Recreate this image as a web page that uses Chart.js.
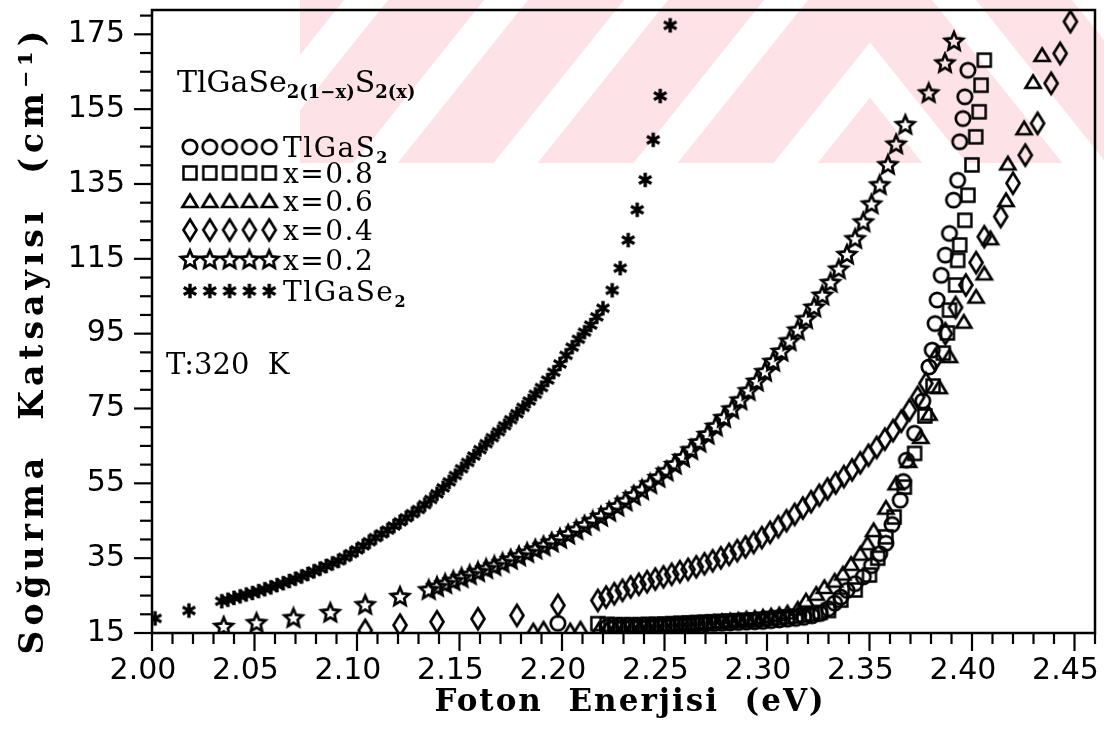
<!DOCTYPE html>
<html>
<head>
<meta charset="utf-8">
<script src="https://cdn.jsdelivr.net/npm/chart.js@4.4.0/dist/chart.umd.min.js"></script>
<style>
  html, body { margin: 0; padding: 0; background: #fff; }
  #wrap { width: 1104px; height: 729px; }
</style>
</head>
<body>
<div id="wrap"><canvas id="absChart" width="1104" height="729"></canvas></div>
<script>
// x = photon energy (eV), y = absorption coefficient (cm^-1)
const seX = [2.0015, 2.018, 2.034, 2.037, 2.040, 2.043, 2.046, 2.049, 2.052, 2.055, 2.058, 2.061, 2.064, 2.067, 2.070, 2.073, 2.076, 2.079, 2.082, 2.085, 2.088, 2.091, 2.094, 2.097, 2.100, 2.103, 2.106, 2.109, 2.112, 2.115, 2.118, 2.121, 2.124, 2.127, 2.130, 2.133, 2.136, 2.139, 2.142, 2.145, 2.148, 2.151, 2.154, 2.157, 2.160, 2.163, 2.166, 2.169, 2.172, 2.175, 2.178, 2.181, 2.184, 2.187, 2.190, 2.193, 2.196, 2.199, 2.202, 2.205, 2.208, 2.211, 2.214, 2.217, 2.220, 2.2245, 2.2284, 2.2323, 2.2367, 2.2406, 2.2445, 2.2479, 2.2528];
const seY = [18.9, 21.0, 23.5, 23.9, 24.4, 24.8, 25.3, 25.7, 26.2, 26.7, 27.2, 27.8, 28.3, 28.9, 29.5, 30.1, 30.8, 31.5, 32.2, 32.9, 33.6, 34.3, 35.2, 36.2, 37.2, 38.3, 39.4, 40.5, 41.5, 42.5, 43.6, 44.7, 45.8, 46.9, 48.0, 49.3, 50.7, 52.2, 53.8, 55.4, 57.1, 58.9, 60.6, 62.3, 64.0, 65.6, 67.2, 68.8, 70.4, 72.0, 73.6, 75.3, 77.0, 78.8, 80.6, 82.6, 84.7, 86.9, 89.2, 91.4, 93.5, 95.4, 97.3, 99.5, 101.8, 106.6, 112.5, 120.0, 128.1, 136.1, 146.8, 158.5, 177.4];

const x02X = [2.035, 2.051, 2.069, 2.087, 2.104, 2.121, 2.135, 2.139, 2.143, 2.147, 2.151, 2.155, 2.159, 2.163, 2.167, 2.171, 2.175, 2.179, 2.183, 2.187, 2.191, 2.195, 2.199, 2.203, 2.207, 2.211, 2.215, 2.219, 2.223, 2.227, 2.231, 2.235, 2.239, 2.243, 2.247, 2.251, 2.255, 2.259, 2.263, 2.267, 2.271, 2.275, 2.279, 2.283, 2.287, 2.291, 2.295, 2.299, 2.303, 2.307, 2.311, 2.315, 2.319, 2.323, 2.327, 2.331, 2.335, 2.339, 2.343, 2.347, 2.351, 2.355, 2.359, 2.363, 2.3675, 2.3789, 2.3868, 2.3912];
const x02Y = [16.6, 17.6, 18.9, 20.3, 22.4, 24.6, 26.4, 27.2, 28.0, 28.8, 29.6, 30.4, 31.2, 32.0, 32.8, 33.6, 34.5, 35.4, 36.3, 37.2, 38.1, 39.1, 40.1, 41.2, 42.4, 43.6, 44.8, 46.0, 47.3, 48.7, 50.1, 51.6, 53.1, 54.7, 56.4, 58.1, 59.9, 61.8, 63.8, 65.8, 67.9, 70.1, 72.4, 74.7, 77.1, 79.6, 82.1, 84.7, 87.4, 90.1, 92.9, 95.8, 98.8, 101.9, 105.1, 108.5, 112.1, 116.0, 120.2, 124.7, 129.5, 134.6, 140.0, 145.5, 150.7, 159.2, 167.2, 173.0];

const x04X = [2.104, 2.121, 2.139, 2.159, 2.178, 2.198, 2.2175, 2.2215, 2.2255, 2.2295, 2.2335, 2.2375, 2.2415, 2.2455, 2.2495, 2.2535, 2.2575, 2.2615, 2.2655, 2.2695, 2.2735, 2.2775, 2.2815, 2.2855, 2.2895, 2.2935, 2.2975, 2.3015, 2.3055, 2.3095, 2.3135, 2.3175, 2.3215, 2.3255, 2.3295, 2.3335, 2.3375, 2.3415, 2.3455, 2.3495, 2.3535, 2.3575, 2.3615, 2.3655, 2.3695, 2.3735, 2.3775, 2.382, 2.387, 2.392, 2.397, 2.402, 2.406, 2.414, 2.420, 2.426, 2.432, 2.4386, 2.443, 2.448];
const x04Y = [15.7, 17.1, 18.0, 18.8, 19.7, 22.4, 23.7, 24.6, 25.5, 26.4, 27.3, 28.0, 28.7, 29.4, 30.0, 30.7, 31.4, 32.0, 32.7, 33.5, 34.3, 35.1, 36.0, 37.0, 38.0, 39.2, 40.5, 41.9, 43.4, 45.0, 46.7, 48.4, 50.1, 51.8, 53.5, 55.1, 56.8, 58.6, 60.5, 62.5, 64.6, 66.8, 69.1, 71.6, 74.6, 78.0, 81.7, 88.0, 95.0, 102.0, 108.0, 114.0, 120.9, 126.3, 135.2, 142.7, 151.2, 161.9, 169.9, 178.4];

const x06X = [2.186, 2.191, 2.204, 2.209, 2.218, 2.222, 2.226, 2.230, 2.234, 2.238, 2.242, 2.246, 2.250, 2.254, 2.258, 2.262, 2.266, 2.270, 2.274, 2.278, 2.282, 2.286, 2.290, 2.294, 2.298, 2.302, 2.306, 2.310, 2.315, 2.319, 2.324, 2.328, 2.333, 2.337, 2.341, 2.3455, 2.349, 2.352, 2.358, 2.363, 2.369, 2.375, 2.379, 2.384, 2.389, 2.396, 2.402, 2.406, 2.409, 2.4166, 2.4175, 2.4254, 2.4298, 2.4342];
const x06Y = [15.7, 16.2, 15.7, 16.2, 16.0, 16.1, 16.2, 16.3, 16.4, 16.5, 16.6, 16.8, 16.9, 17.1, 17.2, 17.4, 17.6, 17.8, 18.0, 18.2, 18.4, 18.6, 18.9, 19.1, 19.4, 19.7, 20.0, 20.5, 21.5, 23.7, 25.5, 27.3, 29.0, 30.9, 33.5, 36.2, 39.0, 42.5, 48.5, 55.0, 61.0, 67.4, 73.6, 80.7, 89.0, 98.2, 104.9, 111.1, 120.5, 130.7, 140.5, 149.9, 162.3, 169.5];

const x08X = [2.2175, 2.222, 2.226, 2.230, 2.234, 2.238, 2.242, 2.246, 2.250, 2.254, 2.258, 2.262, 2.266, 2.270, 2.274, 2.278, 2.282, 2.286, 2.290, 2.294, 2.298, 2.302, 2.306, 2.310, 2.314, 2.318, 2.322, 2.326, 2.330, 2.336, 2.343, 2.350, 2.354, 2.358, 2.362, 2.367, 2.372, 2.377, 2.381, 2.386, 2.388, 2.389, 2.392, 2.393, 2.394, 2.3965, 2.398, 2.400, 2.4018, 2.4035, 2.4044, 2.406];
const x08Y = [17.5, 17.3, 17.2, 17.2, 17.2, 17.2, 17.3, 17.3, 17.4, 17.5, 17.6, 17.7, 17.8, 17.9, 18.0, 18.1, 18.2, 18.3, 18.4, 18.5, 18.7, 18.9, 19.1, 19.3, 19.5, 19.8, 20.1, 20.5, 21.0, 23.8, 26.5, 30.5, 35.0, 40.7, 46.0, 54.0, 63.0, 73.0, 81.0, 89.8, 95.2, 101.3, 108.0, 114.6, 118.7, 125.3, 132.0, 140.1, 147.6, 154.3, 161.4, 168.1];

const gsX = [2.198, 2.222, 2.226, 2.230, 2.234, 2.238, 2.242, 2.246, 2.250, 2.254, 2.258, 2.262, 2.266, 2.270, 2.274, 2.278, 2.282, 2.286, 2.290, 2.294, 2.298, 2.302, 2.306, 2.310, 2.314, 2.318, 2.322, 2.326, 2.330, 2.333, 2.336, 2.339, 2.343, 2.347, 2.351, 2.355, 2.358, 2.361, 2.365, 2.3665, 2.368, 2.372, 2.376, 2.379, 2.3806, 2.382, 2.383, 2.385, 2.387, 2.389, 2.391, 2.393, 2.394, 2.3956, 2.3965, 2.398];
const gsY = [17.6, 16.6, 16.5, 16.5, 16.6, 16.6, 16.7, 16.8, 16.9, 17.0, 17.1, 17.2, 17.3, 17.4, 17.5, 17.6, 17.7, 17.8, 17.9, 18.0, 18.1, 18.3, 18.5, 18.7, 18.9, 19.2, 19.6, 20.2, 21.5, 23.0, 24.6, 26.4, 28.2, 30.0, 33.0, 36.2, 39.0, 44.0, 50.5, 55.5, 61.2, 68.4, 77.0, 86.1, 90.6, 97.7, 104.0, 110.6, 116.0, 121.8, 130.7, 136.0, 146.3, 152.5, 158.3, 165.4];

const xTickLabels = ['2.00', '2.05', '2.10', '2.15', '2.20', '2.25', '2.30', '2.35', '2.40', '2.45'];
const yTickLabels = ['15', '35', '55', '75', '95', '115', '135', '155', '175'];

function makeMarker(w, h, lw, draw) {
    const c = document.createElement('canvas');
    c.width = w;
    c.height = h;
    const g = c.getContext('2d');
    g.strokeStyle = '#000';
    g.lineWidth = lw;
    g.lineJoin = 'miter';
    draw(g, w / 2, h / 2);
    return c;
}

const circleMark = makeMarker(22, 22, 2.7, (g, cx, cy) => {
    g.beginPath(); g.arc(cx, cy, 7.2, 0, Math.PI * 2); g.stroke();
});
const squareMark = makeMarker(20, 20, 2.5, (g, cx, cy) => {
    g.strokeRect(cx - 6.5, cy - 6.5, 13, 13);
});
const triangleMark = makeMarker(22, 20, 2.7, (g, cx, cy) => {
    g.beginPath(); g.moveTo(cx, cy - 6.5); g.lineTo(cx + 7.5, cy + 6); g.lineTo(cx - 7.5, cy + 6); g.closePath(); g.stroke();
});
const diamondMark = makeMarker(20, 28, 2.7, (g, cx, cy) => {
    g.beginPath(); g.moveTo(cx, cy - 10.5); g.lineTo(cx + 6.5, cy); g.lineTo(cx, cy + 10.5); g.lineTo(cx - 6.5, cy); g.closePath(); g.stroke();
});
const starMark = makeMarker(26, 26, 2.7, (g, cx, cy) => {
    g.beginPath();
    for (let i = 0; i < 10; i++) {
        const r = i % 2 === 0 ? 9.5 : 4.4;
        const a = -Math.PI / 2 + i * Math.PI / 5;
        const px = cx + r * Math.cos(a), py = cy + r * Math.sin(a);
        if (i === 0) g.moveTo(px, py); else g.lineTo(px, py);
    }
    g.closePath(); g.stroke();
});
const asteriskMark = makeMarker(20, 20, 3.4, (g, cx, cy) => {
    g.beginPath();
    for (let i = 0; i < 3; i++) {
        const a = Math.PI / 2 + i * Math.PI / 3;
        g.moveTo(cx - 7.2 * Math.cos(a), cy - 7.2 * Math.sin(a));
        g.lineTo(cx + 7.2 * Math.cos(a), cy + 7.2 * Math.sin(a));
    }
    g.stroke();
});

function toPoints(xs, ys) {
    return xs.map((x, i) => ({ x: x, y: ys[i] }));
}

const series = [
    { label: 'TlGaS₂', xs: gsX, ys: gsY, mark: circleMark },
    { label: 'x=0.8', xs: x08X, ys: x08Y, mark: squareMark },
    { label: 'x=0.6', xs: x06X, ys: x06Y, mark: triangleMark },
    { label: 'x=0.4', xs: x04X, ys: x04Y, mark: diamondMark },
    { label: 'x=0.2', xs: x02X, ys: x02Y, mark: starMark },
    { label: 'TlGaSe₂', xs: seX, ys: seY, mark: asteriskMark }
];

const tickFont = { family: 'DejaVu Sans', size: 30 };

function drawRich(ctx, x, y, parts) {
    let cx = x;
    parts.forEach(p => {
        ctx.font = p[1];
        ctx.fillText(p[0], cx, y + p[2]);
        cx += ctx.measureText(p[0]).width;
    });
}

// faint pink chevron stamp behind the top of the page
const stampPlugin = {
    id: 'stamp',
    beforeDraw(chart) {
        const ctx = chart.ctx;
        const ax = 870, s = 1.25, period = 175, white = 55;
        const xl = 300, xr = 1104;
        ctx.save();
        ctx.beginPath();
        ctx.rect(xl, 0, xr - xl, 163);
        ctx.clip();
        ctx.fillStyle = '#fde3e7';
        for (let k = -6; k <= 2; k++) {
            const d1 = 70 + white / 2 + k * period;
            const d2 = 70 - white / 2 + (k + 1) * period;
            ctx.beginPath();
            ctx.moveTo(xl, d1 + s * (ax - xl));
            ctx.lineTo(ax, d1);
            ctx.lineTo(xr, d1 + s * (xr - ax));
            ctx.lineTo(xr, d2 + s * (xr - ax));
            ctx.lineTo(ax, d2);
            ctx.lineTo(xl, d2 + s * (ax - xl));
            ctx.closePath();
            ctx.fill();
        }
        ctx.restore();
    }
};

// frame, tick marks, titles and the in-plot legend
const decorPlugin = {
    id: 'decor',
    afterDraw(chart) {
        const ctx = chart.ctx;
        const area = chart.chartArea;
        const xs = chart.scales.x, ys = chart.scales.y;
        ctx.save();
        ctx.strokeStyle = '#000';
        ctx.lineWidth = 2.5;
        ctx.strokeRect(area.left, area.top, area.right - area.left, area.bottom - area.top);

        ctx.lineWidth = 2.2;
        xs.ticks.forEach(t => {
            const px = xs.getPixelForValue(t.value);
            const major = Math.round(t.value * 100) % 5 === 0;
            ctx.beginPath();
            ctx.moveTo(px, area.bottom);
            ctx.lineTo(px, area.bottom + (major ? 18 : 11));
            ctx.stroke();
        });
        ys.ticks.forEach(t => {
            const py = ys.getPixelForValue(t.value);
            const major = (Math.round(t.value) - 15) % 20 === 0;
            ctx.beginPath();
            ctx.moveTo(area.left, py);
            ctx.lineTo(area.left - (major ? 18 : 12), py);
            ctx.stroke();
        });

        ctx.fillStyle = '#000';
        ctx.textAlign = 'center';
        ctx.textBaseline = 'middle';
        ctx.font = 'bold 31px "DejaVu Serif"';
        ctx.letterSpacing = '2px';
        ctx.fillText('Foton  Enerjisi  (eV)', 630, 703);

        ctx.save();
        ctx.translate(34, 340);
        ctx.rotate(-Math.PI / 2);
        ctx.font = 'bold 33px "DejaVu Serif"';
        ctx.letterSpacing = '5px';
        ctx.fillText('Soğurma  Katsayısı  (cm⁻¹)', 0, 0);
        ctx.restore();
        ctx.letterSpacing = '0px';

        ctx.textAlign = 'left';
        ctx.textBaseline = 'alphabetic';
        drawRich(ctx, 177, 92, [
            ['TlGaSe', '30px "DejaVu Serif"', 0],
            ['2(1−x)', 'bold 18px "DejaVu Serif"', 6],
            ['S', '30px "DejaVu Serif"', 0],
            ['2(x)', 'bold 18px "DejaVu Serif"', 6]
        ]);

        const rowsY = [147, 173, 201, 230, 260, 291];
        const f = '28px "DejaVu Serif"';
        const sub = 'bold 16px "DejaVu Serif"';
        const labels = [
            [['TlGaS', f, 0], ['2', sub, 6]],
            [['x=0.8', f, 0]],
            [['x=0.6', f, 0]],
            [['x=0.4', f, 0]],
            [['x=0.2', f, 0]],
            [['TlGaSe', f, 0], ['2', sub, 6]]
        ];
        ctx.letterSpacing = '1.5px';
        series.forEach((s, i) => {
            for (let k = 0; k < 5; k++) {
                const m = s.mark;
                ctx.drawImage(m, 190 + k * 19.8 - m.width / 2, rowsY[i] - m.height / 2);
            }
            drawRich(ctx, 283, rowsY[i] + 10, labels[i]);
        });
        ctx.letterSpacing = '0px';

        ctx.font = '29px "DejaVu Serif"';
        ctx.fillText('T:320  K', 166, 374);
        ctx.restore();
    }
};

const ctx = document.getElementById('absChart').getContext('2d');
new Chart(ctx, {
    type: 'scatter',
    data: {
        datasets: series.map(s => ({
            label: s.label,
            data: toPoints(s.xs, s.ys),
            pointStyle: s.mark,
            pointRadius: 7,
            borderColor: '#000',
            backgroundColor: 'transparent',
            showLine: false
        }))
    },
    options: {
        responsive: false,
        animation: false,
        devicePixelRatio: 1,
        layout: { padding: { top: 10, right: 9, left: 0, bottom: 0 } },
        plugins: {
            legend: { display: false },
            tooltip: { enabled: false }
        },
        scales: {
            x: {
                type: 'linear',
                min: 2.0,
                max: 2.46,
                grid: { drawOnChartArea: false, tickLength: 18, tickColor: 'rgba(0,0,0,0)' },
                border: { display: false },
                ticks: {
                    stepSize: 0.01,
                    autoSkip: false,
                    maxRotation: 0,
                    includeBounds: false,
                    labelOffset: -9,
                    padding: 2,
                    color: '#000',
                    font: tickFont,
                    callback: function (v) {
                        const n = Math.round(v * 100);
                        if (n % 5 !== 0) return '';
                        return xTickLabels[(n - 200) / 5] || '';
                    }
                },
                afterFit: function (scale) {
                    scale.height = 96;
                    scale.paddingLeft = 0;
                    scale.paddingRight = 0;
                }
            },
            y: {
                min: 15,
                max: 181.5,
                grid: { drawOnChartArea: false, tickLength: 18, tickColor: 'rgba(0,0,0,0)' },
                border: { display: false },
                ticks: {
                    stepSize: 5,
                    autoSkip: false,
                    includeBounds: false,
                    padding: 9,
                    color: '#000',
                    font: tickFont,
                    callback: function (v) {
                        const n = Math.round(v) - 15;
                        if (n % 20 !== 0) return '';
                        return yTickLabels[n / 20] || '';
                    }
                },
                afterFit: function (scale) {
                    scale.width = 152;
                    scale.paddingTop = 0;
                    scale.paddingBottom = 0;
                }
            }
        }
    },
    plugins: [stampPlugin, decorPlugin]
});
</script>
</body>
</html>
